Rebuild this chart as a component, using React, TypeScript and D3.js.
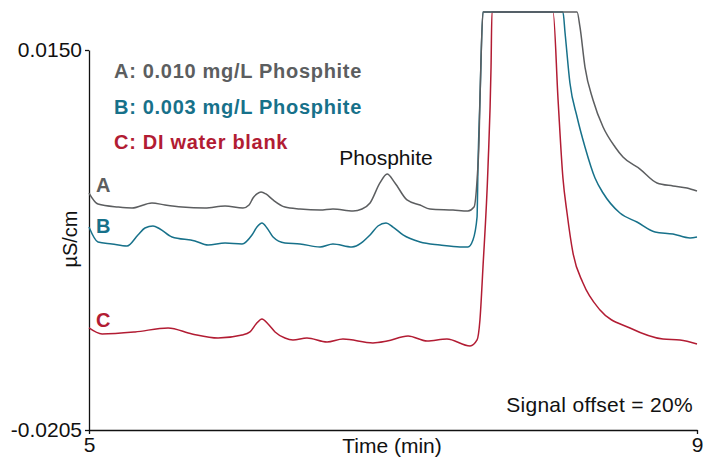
import React, { useEffect, useRef } from 'react';
import * as d3 from 'd3';

// chromatogram traces, time in min, signal in µS/cm (offset 20%)
const timeA = [5.0, 5.059, 5.191, 5.283, 5.414, 5.5, 5.612, 5.763, 5.895, 6.013, 6.053, 6.079, 6.105, 6.132, 6.164, 6.211, 6.289, 6.388, 6.52, 6.605, 6.737, 6.796, 6.849, 6.914, 6.961, 7.013, 7.092, 7.178, 7.243, 7.395, 7.493, 7.533, 7.553, 7.566, 7.572, 7.579, 7.592, 8.211, 8.23, 8.263, 8.316, 8.382, 8.461, 8.513, 8.625, 8.737, 8.842, 8.934, 9.0];
const signalA = [0.00164, 0.00061, 0.00033, 0.00024, 0.00071, 0.00052, 0.00033, 0.00024, 0.00043, 0.00024, 0.00052, 0.00117, 0.00155, 0.00173, 0.00155, 0.00099, 0.00033, 0.00015, 0.00005, 0.00015, -0.00004, 0.00015, 0.00071, 0.00258, 0.00342, 0.00258, 0.00099, 0.00052, 0.00015, 0.00005, -0.00004, 0.00033, 0.00286, 0.00659, 0.01033, 0.01407, 0.01855, 0.01855, 0.01715, 0.01341, 0.01033, 0.00781, 0.00594, 0.005, 0.00388, 0.00258, 0.0023, 0.00211, 0.00183];

const timeB = [5.0, 5.059, 5.151, 5.25, 5.322, 5.368, 5.421, 5.467, 5.546, 5.697, 5.783, 5.895, 6.007, 6.072, 6.105, 6.138, 6.171, 6.211, 6.289, 6.388, 6.52, 6.605, 6.73, 6.849, 6.901, 6.954, 7.0, 7.066, 7.178, 7.309, 7.441, 7.493, 7.526, 7.553, 7.559, 7.572, 7.592, 8.118, 8.132, 8.164, 8.211, 8.263, 8.329, 8.382, 8.493, 8.605, 8.724, 8.842, 8.954, 9.0];
const signalB = [-0.00154, -0.00294, -0.00312, -0.00331, -0.00228, -0.00163, -0.00144, -0.00172, -0.00247, -0.00284, -0.00322, -0.00303, -0.00312, -0.00228, -0.00154, -0.00116, -0.00163, -0.00247, -0.00303, -0.00312, -0.0034, -0.00312, -0.0034, -0.00228, -0.00144, -0.00116, -0.00154, -0.00228, -0.00294, -0.00322, -0.0034, -0.0034, -0.00275, -0.0006, 0.00407, 0.01033, 0.01855, 0.01855, 0.01659, 0.01192, 0.00874, 0.00594, 0.00304, 0.00164, -0.00023, -0.00107, -0.002, -0.00219, -0.00256, -0.00247];

const timeC = [5.0, 5.086, 5.303, 5.52, 5.678, 5.849, 6.007, 6.059, 6.099, 6.138, 6.178, 6.224, 6.289, 6.342, 6.434, 6.566, 6.671, 6.868, 6.961, 7.099, 7.224, 7.355, 7.507, 7.553, 7.572, 7.592, 7.625, 7.645, 7.651, 8.053, 8.086, 8.118, 8.145, 8.184, 8.25, 8.362, 8.559, 8.776, 8.888, 9.0];
const signalC = [-0.01097, -0.01153, -0.01134, -0.01097, -0.01153, -0.01191, -0.01163, -0.01134, -0.0106, -0.01013, -0.0106, -0.01134, -0.01191, -0.01209, -0.01191, -0.01228, -0.012, -0.01237, -0.01219, -0.01172, -0.01219, -0.012, -0.01265, -0.01209, -0.01022, -0.00527, 0.00407, 0.01341, 0.01855, 0.01855, 0.01033, 0.00304, -0.00023, -0.00396, -0.00677, -0.00929, -0.01097, -0.012, -0.01209, -0.01247];

const legendLabels = ['A: 0.010 mg/L Phosphite', 'B: 0.003 mg/L Phosphite', 'C: DI water blank'];
const traceLetters = ['A', 'B', 'C'];
const yTicks = [-0.0205, 0.015];
const xTicks = [5, 9];

const colors = ['#5c5e60', '#17718a', '#b21c33'];

const App = () => {
  const svgRef = useRef<SVGSVGElement>(null);

  useEffect(() => {
    const svg = d3.select(svgRef.current);
    svg.selectAll('*').remove();

    const w = 703;
    const h = 458;
    const font = '"Liberation Sans", Arial, Helvetica, sans-serif';
    svg.attr('width', w).attr('height', h).style('font-family', font);

    // scales
    const x = d3.scaleLinear().domain([5, 9]).range([89, 697]);
    const y = d3.scaleLinear().domain([-0.0205, 0.015]).range([430, 50]);

    // axes
    const yAxis = d3.axisLeft(y)
      .tickValues(yTicks)
      .tickFormat((d) => (d as number).toFixed(4))
      .tickSize(4)
      .tickSizeOuter(0)
      .tickPadding(3);
    const yg = svg.append('g').attr('transform', 'translate(89,0)').call(yAxis);
    yg.selectAll('text').style('font-size', '21px').style('font-family', font).attr('fill', '#111');
    yg.selectAll('line, path').attr('stroke', '#111').attr('stroke-width', 1.3);

    const xAxis = d3.axisBottom(x)
      .tickValues(xTicks)
      .tickFormat(d3.format('d'))
      .tickSize(4)
      .tickSizeOuter(0)
      .tickPadding(3);
    const xg = svg.append('g').attr('transform', 'translate(0,430)').call(xAxis);
    xg.selectAll('text').style('font-size', '21px').style('font-family', font).attr('fill', '#111');
    xg.selectAll('line, path').attr('stroke', '#111').attr('stroke-width', 1.3);

    // axis titles
    svg.append('text')
      .attr('x', 392).attr('y', 453)
      .attr('text-anchor', 'middle')
      .style('font-size', '21px')
      .attr('fill', '#111')
      .text('Time (min)');
    svg.append('text')
      .attr('transform', 'translate(77,239) rotate(-90)')
      .attr('text-anchor', 'middle')
      .style('font-size', '20px')
      .attr('fill', '#111')
      .text('µS/cm');

    // traces
    const line = d3.line<[number, number]>()
      .x((d) => x(d[0]))
      .y((d) => y(d[1]))
      .curve(d3.curveMonotoneX);

    const series = [
      d3.zip(timeA, signalA),
      d3.zip(timeB, signalB),
      d3.zip(timeC, signalC),
    ];

    [2, 1, 0].forEach((i) => {
      svg.append('path')
        .datum(series[i] as [number, number][])
        .attr('d', line)
        .attr('fill', 'none')
        .attr('stroke', colors[i])
        .attr('stroke-width', 1.5)
        .attr('stroke-linejoin', 'round');
    });

    // legend
    legendLabels.forEach((lbl, i) => {
      svg.append('text')
        .attr('x', 114).attr('y', 78 + i * 35.5)
        .style('font-size', '20px')
        .style('font-weight', 'bold')
        .style('letter-spacing', '0.7px')
        .attr('fill', colors[i])
        .text(lbl);
    });

    // trace letters
    const letterY = [192, 233, 327];
    traceLetters.forEach((l, i) => {
      svg.append('text')
        .attr('x', 96).attr('y', letterY[i])
        .style('font-size', '20px')
        .style('font-weight', 'bold')
        .attr('fill', colors[i])
        .text(l);
    });

    svg.append('text')
      .attr('x', 386).attr('y', 165)
      .attr('text-anchor', 'middle')
      .style('font-size', '21px')
      .attr('fill', '#111')
      .text('Phosphite');

    svg.append('text')
      .attr('x', 693).attr('y', 412)
      .attr('text-anchor', 'end')
      .style('font-size', '21px')
      .style('letter-spacing', '0.3px')
      .attr('fill', '#111')
      .text('Signal offset = 20%');
  }, []);

  return (
    <div style={{ position: 'absolute', left: 0, top: 0, background: '#fff' }}>
      <svg ref={svgRef}></svg>
    </div>
  );
};

export default App;
